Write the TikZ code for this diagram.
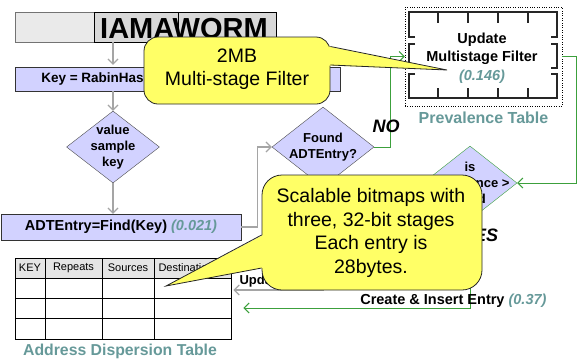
\documentclass[tikz,border=0pt]{standalone}
\usepackage{fontspec}
\setmainfont{Liberation Sans}
\usepackage{tikz}
\usetikzlibrary{arrows.meta,positioning,shapes.geometric}
\definecolor{stepfill}{RGB}{210,210,255}
\definecolor{notefill}{RGB}{255,255,102}
\definecolor{numteal}{RGB}{102,153,153}
\definecolor{yesgreen}{RGB}{60,160,60}
\definecolor{flowgray}{RGB}{165,165,165}
\definecolor{wormlight}{RGB}{234,234,234}
\definecolor{wormdark}{RGB}{216,216,216}
\newcommand{\cost}[1]{\textcolor{numteal}{\textit{#1}}}
\tikzset{
    %Define standard arrow tip
    >={Straight Barb[length=5pt,width=10pt]},
    %Define style for boxes
    stepbox/.style={
             rectangle,
             draw=black!80, fill=stepfill,
             inner sep=0pt},
    decision/.style={
             diamond,
             draw=black!70, fill=stepfill,
             inner sep=0pt},
    wormcell/.style={
             rectangle,
             draw=black, fill=wormdark,
             minimum height=30pt, inner sep=0pt},
    note/.style={
             draw=black!85, fill=notefill,
             line width=0.8pt},
    noteedge/.style={
             draw=black!85,
             line width=0.8pt},
    % Define text styles
    steptext/.style={
             align=center,
             font=\fontsize{14.5}{18.5}\bfseries\selectfont},
    decisiontext/.style={
             align=center,
             font=\fontsize{13}{16}\bfseries\selectfont},
    tablename/.style={
             text=numteal,
             font=\fontsize{16}{18}\bfseries\selectfont},
    answer/.style={
             font=\fontsize{18}{20}\bfseries\itshape\selectfont},
    cellhead/.style={
             font=\fontsize{11}{13}\selectfont},
    notetext/.style={
             align=center,
             font=\fontsize{19.5}{22.5}\selectfont},
    % Define arrow style
    flowarrow/.style={
            ->,
            flowgray,
            line width=1.2pt},
    yesarrow/.style={
            ->,
            yesgreen,
            line width=1pt}
}

\begin{document}
\begin{tikzpicture}[x=1pt, y=-1pt]
 \useasboundingbox (0,0) rectangle (580,360);
 % the packet string
 \node[wormcell, fill=wormlight, draw=black!55, minimum width=79pt] (seg1) at (54.5,27) {};
 \node[wormcell, minimum width=84pt] (seg2) at (136,27) {};
 \node[wormcell, minimum width=98pt] (seg3) at (227,27) {};
 \node[font=\fontsize{29}{30}\bfseries\selectfont, inner sep=0pt] (worm) at (184,28.5) {IAMAWORM};
 % flow
 \node[stepbox, minimum width=325pt, minimum height=24pt] (key) at (177.5,79) {};
 \node[steptext, font=\fontsize{13.5}{16}\bfseries\selectfont, anchor=west] (keytext) at ([xshift=23pt]key.west) {Key = RabinHash(“IAMA”)};
 \node[decision, minimum width=93pt, minimum height=72pt] (sample) at (113,147) {};
 \node[decisiontext] (sampletext) at (sample) {value\\sample\\key};
 \node[stepbox, steptext, minimum width=240pt, minimum height=26pt] (find) at (121,227) {ADTEntry=Find(Key) \cost{(0.021)}};
 \node[decision, minimum width=102pt, minimum height=80pt] (found) at (323,147) {};
 \node[decisiontext] (foundtext) at (found) {Found\\ADTEntry?};
 \node[decision, draw=yesgreen, minimum width=94pt, minimum height=74pt] (prevalent) at (470,183) {};
 \node[decisiontext] (prevalenttext) at (prevalent) {is\\prevalence >\\thold};
 % prevalence table
 \node[draw, dotted, minimum width=157pt, minimum height=99pt] (prevtable) at (483.5,56.5) {};
 \draw[black!85, line width=1.2pt] (415,37) -- (409,37) -- (409,12) -- (557,12) -- (557,37) -- (551,37)
       (415,44) -- (409,44) -- (409,68) -- (415,68) (551,44) -- (557,44) -- (557,68) -- (551,68)
       (415,74) -- (409,74) -- (409,98) -- (557,98) -- (557,74) -- (551,74);
 \foreach \x in {438,468,498,528}
   \draw[black!85, line width=1.2pt] (\x,12) -- (\x,23) (\x,98) -- (\x,88);
 \node[steptext] (filtertext) at (482,58) {Update\\Multistage Filter\\\cost{(0.146)}};
 \node[tablename, below=2pt of prevtable] (prevname) {Prevalence Table};
 % address dispersion table
 \fill[black!10] (15,258) rectangle (231,278);
 \node[draw=black, line width=0.9pt, minimum width=216pt, minimum height=81pt, inner sep=0pt] (adt) at (123,298.5) {};
 \foreach \y in {278,298,318}
   \draw[line width=0.9pt] (15,\y) -- (231,\y);
 \foreach \x in {45,102,154}
   \draw[line width=0.9pt] (\x,258) -- (\x,339);
 \node[cellhead] (hkey) at (30,268) {KEY};
 \node[cellhead] (hrep) at (73.5,268) {Repeats};
 \node[cellhead] (hsrc) at (128,268) {Sources};
 \node[cellhead, anchor=west] (hdst) at (155,268) {Destinations};
 \node[tablename, font=\fontsize{15.8}{18}\bfseries\selectfont] (adtname) at (120,351) {Address Dispersion Table};
 % connectors
 \draw[flowarrow, shorten >=2pt] (seg2.south -| sample) -- (key.north -| sample);
 \draw[flowarrow] (key.south -| sample) -- (sample.north);
 \draw[flowarrow] (sample.south) -- (find.north -| sample);
 \draw[flowarrow] (find.east) -- ++(16,0) |- (found.west);
 \draw[yesarrow] (found.east) -- ++(16,0) |- (prevtable.west);
 \draw[yesarrow] (prevtable.east) -- ++(14,0) |- (prevalent.east);
 \draw[flowarrow, shorten >=2pt] (found.south) |- ([yshift=8.5pt]adt.east);
 \draw[yesarrow, shorten >=12pt] (prevalent.south) |- ([yshift=-9.5pt]adt.east);
 \node[steptext, font=\fontsize{13}{16}\bfseries\selectfont, anchor=west] (updatetext) at (236,281) {Update Entry};
 \node[steptext, anchor=east] (createtext) at (550,301) {Create \& Insert Entry \cost{(0.37)}};
 \node[answer] (no) at (386,126) {NO};
 \node[answer] (yes) at (480,235) {YES};
 % callouts
 \node[note, rounded corners=14pt, minimum width=186pt, minimum height=67pt] (mbnote) at (237,70.5) {};
 \coordinate (mbtip) at (447,70);
 \fill[notefill] ([xshift=-1.5pt,yshift=24pt]mbnote.east) -- (mbtip) -- ([xshift=-1.5pt,yshift=5pt]mbnote.east) -- cycle;
 \draw[noteedge] ([yshift=24pt]mbnote.east) -- (mbtip) -- ([yshift=5.5pt]mbnote.east);
 \node[notetext] (mbtext) at ([yshift=1.5pt]mbnote.center) {2MB\\Multi-stage Filter};
 \node[note, rounded corners=20pt, minimum width=220pt, minimum height=115pt] (bitnote) at (372,232.5) {};
 \coordinate (bittip) at (166,286);
 \fill[notefill] ([xshift=1.5pt,yshift=-2.5pt]bitnote.west) -- (bittip) -- ([xshift=1.5pt,yshift=-35.5pt]bitnote.west) -- cycle;
 \draw[noteedge] ([yshift=-2.5pt]bitnote.west) -- (bittip) -- ([yshift=-35.5pt]bitnote.west);
 \node[notetext, font=\fontsize{19.5}{23.5}\selectfont] (bittext) at (371,233) {Scalable bitmaps with\\three, 32-bit stages\\Each entry is\\28bytes.};
\end{tikzpicture}
\end{document}
